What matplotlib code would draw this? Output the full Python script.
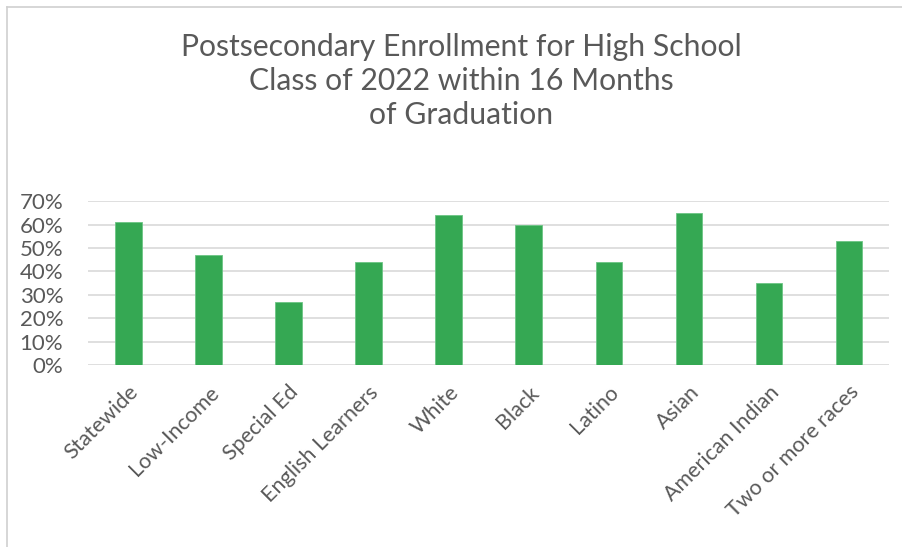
import matplotlib
matplotlib.use('Agg')
import matplotlib.pyplot as plt
from matplotlib.lines import Line2D
from matplotlib.ticker import PercentFormatter

plt.rcParams['font.family'] = ['Lato', 'DejaVu Sans']

### Dati
categories = ['Statewide', 'Low-Income', 'Special Ed', 'English Learners', 'White',
              'Black', 'Latino', 'Asian', 'American Indian', 'Two or more races']
enrollment = [0.61, 0.47, 0.27, 0.44, 0.64, 0.60, 0.44, 0.65, 0.35, 0.53]
y_ticks = [0, 0.1, 0.2, 0.3, 0.4, 0.5, 0.6, 0.7]
title_lines = ['Postsecondary Enrollment for High School',
               'Class of 2022 within 16 Months',
               'of Graduation']

text_color = '#595959'
bar_color = '#35a853'

fig = plt.figure(figsize=(9.03, 5.47), dpi=100)
ax = fig.add_axes([0.0978, 0.332, 0.8867, 0.3005])

ax.bar(range(len(categories)), enrollment, width=0.33, color=bar_color,
       edgecolor='#6cc585', linewidth=0.6, zorder=3)

ax.set_ylim(0, 0.7)
ax.set_xlim(-0.5, len(categories) - 0.5)
ax.set_yticks(y_ticks)
ax.yaxis.set_major_formatter(PercentFormatter(1.0, decimals=0))
ax.grid(axis='y', color='#d9d9d9', linewidth=1.2, zorder=0)
ax.set_axisbelow(True)

for s in ax.spines.values():
    s.set_visible(False)
ax.tick_params(axis='both', length=0, colors=text_color)
ax.tick_params(axis='y', labelsize=16, pad=18)

ax.set_xticks(range(len(categories)))
ax.set_xticklabels(categories, rotation=45, ha='right', rotation_mode='anchor',
                   fontsize=15.5, color=text_color)
ax.tick_params(axis='x', pad=12)

# titolo: una riga per volta per controllare la spaziatura
for k, line in enumerate(title_lines):
    fig.text(0.511, 0.914 - k * 0.062, line, ha='center', va='center',
             fontsize=21.7, color=text_color)

# bordo del riquadro (solo sopra e a sinistra, immagine ritagliata)
fig.add_artist(Line2D([7 / 903, 1], [1 - 7 / 547, 1 - 7 / 547], color='#d0d0d0', linewidth=1.2))
fig.add_artist(Line2D([7 / 903, 7 / 903], [0, 1 - 7 / 547], color='#d0d0d0', linewidth=1.2))

fig.savefig('out.png', dpi=100)
